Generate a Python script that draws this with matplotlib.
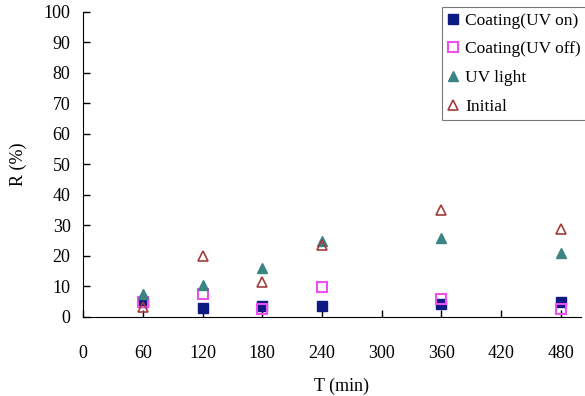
import matplotlib.pyplot as plt

# ---- data ----
T = [60, 120, 180, 240, 360, 480]
coating_uv_on = [4.9, 3.1, 3.6, 3.6, 4.3, 5.0]
coating_uv_off = [5.0, 7.5, 2.7, 9.9, 5.9, 2.6]
uv_light = [7.4, 10.5, 16.0, 24.9, 25.8, 20.9]
initial = [3.4, 20.0, 11.4, 23.6, 35.1, 28.9]

x_ticks = [0, 60, 120, 180, 240, 300, 360, 420, 480]
y_ticks = list(range(0, 101, 10))

plt.rcParams['font.family'] = ['Liberation Serif', 'DejaVu Serif']
plt.rcParams['font.size'] = 13

fig = plt.figure(figsize=(5.85, 3.96), dpi=100)
ax = fig.add_axes([0.1419, 0.1995, 0.8511, 0.7702])

ax.plot(T, coating_uv_on, ls='none', marker='s', ms=6.5, mfc='#0c1a82',
        mec='#0c1a82', label='Coating(UV on)', zorder=3)
ax.plot(T, coating_uv_off, ls='none', marker='s', ms=6.5, mfc='none',
        mec='#ee4ff0', mew=1.5, label='Coating(UV off)', zorder=4)
ax.plot(T, uv_light, ls='none', marker='^', ms=7.5, mfc='#3b8584',
        mec='#3b8584', label='UV light', zorder=5)
ax.plot(T, initial, ls='none', marker='^', ms=7.5, mfc='none',
        mec='#a33c3c', mew=1.2, label='Initial', zorder=6)

ax.set_xlim(0, 500)
ax.set_ylim(0, 100)
ax.set_xticks(x_ticks)
ax.set_yticks(y_ticks)
ax.spines['top'].set_visible(False)
ax.spines['right'].set_visible(False)
ax.tick_params(axis='x', direction='in', length=5, pad=20, width=1)
ax.tick_params(axis='y', direction='in', length=5, pad=9, width=1)

ax.set_ylabel('R (%)', labelpad=12)
ax.set_xlabel('T (min)')
ax.xaxis.set_label_coords(0.52, -0.2)

leg = ax.legend(loc='upper left', bbox_to_anchor=(0.721, 1.015), frameon=True,
                fancybox=False, edgecolor='#555555', handlelength=0.7,
                handletextpad=0.35, borderpad=0.3, labelspacing=0.72,
                borderaxespad=0, fontsize=12.5)
leg.get_frame().set_linewidth(0.8)

fig.savefig('out.png', dpi=100)
